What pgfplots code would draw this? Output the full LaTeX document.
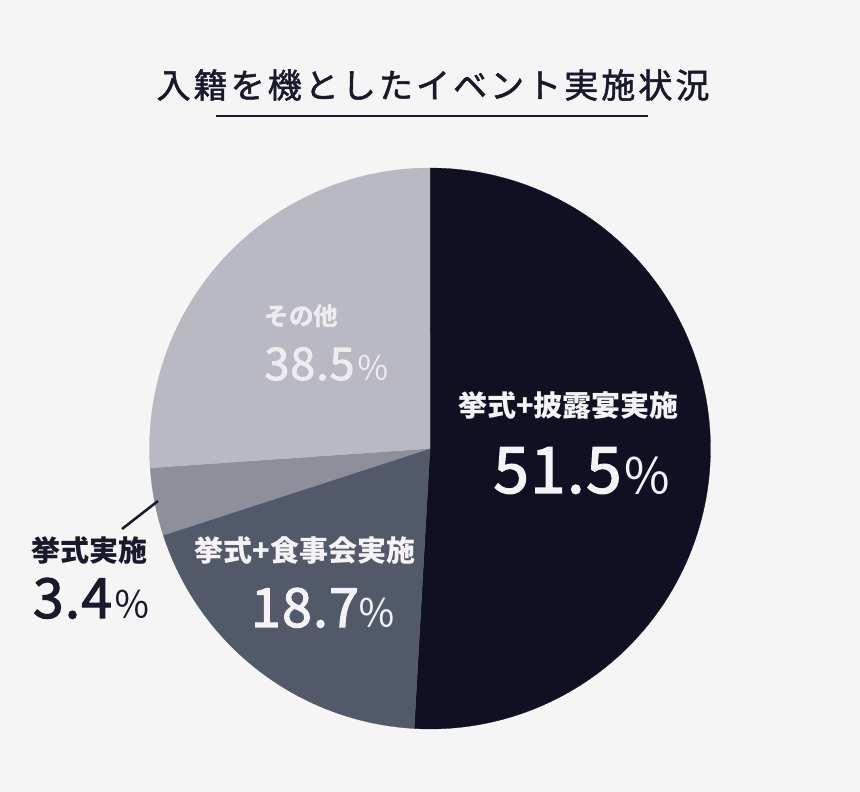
\documentclass[border=0pt]{standalone}
\usepackage{pgfplots}
\pgfplotsset{compat=1.18}
\usepackage{fontspec}
\setmainfont{Noto Sans CJK JP}
\newfontfamily\jpnum{Noto Sans CJK JP}[FakeBold=2, LetterSpace=2]
\newfontfamily\jptitle{Noto Sans CJK JP}[LetterSpace=9, FakeBold=1.5]
\definecolor{bgc}{HTML}{F5F5F5}
\definecolor{cdark}{HTML}{0F1122}
\definecolor{cslate}{HTML}{525968}
\definecolor{cgray}{HTML}{8D909B}
\definecolor{clight}{HTML}{B8B9C2}
\definecolor{ctext}{HTML}{181A2B}
\definecolor{cwhite}{HTML}{F4F4F6}
\definecolor{cpale}{HTML}{EDEDF0}
\newcommand{\fs}[1]{\fontsize{#1pt}{#1pt}\selectfont}
\begin{document}
\begin{tikzpicture}
\begin{axis}[x=0.75pt, y=0.75pt, xmin=0, xmax=860, ymin=0, ymax=792,
  hide axis, clip=false]
\fill[bgc] (axis cs:0,0) rectangle (axis cs:860,792);
% slices: values in percent as drawn (clockwise from top)
% dark 50.9, slate 19.1, gray 3.9, light 26.1
\addplot[fill=cdark, draw=cdark, line width=0.2pt, domain=0:50.9, samples=150, variable=\t]
  ({430+280.5*sin(3.6*\t)}, {343.5+280.5*cos(3.6*\t)}) -- (axis cs:430,343.5) -- cycle;
\addplot[fill=cslate, draw=cslate, line width=0.2pt, domain=50.9:70.0, samples=80, variable=\t]
  ({430+280.5*sin(3.6*\t)}, {343.5+280.5*cos(3.6*\t)}) -- (axis cs:430,343.5) -- cycle;
\addplot[fill=cgray, draw=cgray, line width=0.2pt, domain=70.0:73.9, samples=30, variable=\t]
  ({430+280.5*sin(3.6*\t)}, {343.5+280.5*cos(3.6*\t)}) -- (axis cs:430,343.5) -- cycle;
\addplot[fill=clight, draw=clight, line width=0.2pt, domain=73.9:100, samples=100, variable=\t]
  ({430+280.5*sin(3.6*\t)}, {343.5+280.5*cos(3.6*\t)}) -- (axis cs:430,343.5) -- cycle;
% leader line
\addplot[ctext, line width=1.9pt] coordinates {(122,263) (158,291)};
% title
\node[ctext, anchor=center] at (axis cs:433,707) {\jptitle\fs{25.5}入籍を機としたイベント実施状況};
\addplot[ctext, line width=1.5pt] coordinates {(216,676) (648,676)};
% labels
\node[cwhite, anchor=center] at (axis cs:568.5,387) {\bfseries\fs{21.75}挙式+披露宴実施};
\node[cwhite, anchor=base] at (axis cs:557.5,299) {\jpnum\fs{48}51.5};
\node[cwhite, anchor=base] at (axis cs:647,297) {\fs{37}％};
\node[cpale, anchor=center] at (axis cs:301.5,475.5) {\bfseries\fs{18.5}その他};
\node[cpale, anchor=base] at (axis cs:309.5,412) {\jpnum\fs{33.75}38.5};
\node[cpale, anchor=base] at (axis cs:373,411) {\fs{25}％};
\node[cwhite, anchor=center] at (axis cs:305,242) {\bfseries\fs{21.75}挙式+食事会実施};
\node[cwhite, anchor=base] at (axis cs:305,165) {\jpnum\fs{40.5}18.7};
\node[cwhite, anchor=base] at (axis cs:376.5,164) {\fs{29}％};
\node[ctext, anchor=center] at (axis cs:89.5,242) {\bfseries\fs{21.75}挙式実施};
\node[ctext, anchor=base] at (axis cs:72.5,174) {\jpnum\fs{41.5}3.4};
\node[ctext, anchor=base] at (axis cs:132.5,173) {\fs{28}％};
\end{axis}
\end{tikzpicture}
\end{document}
